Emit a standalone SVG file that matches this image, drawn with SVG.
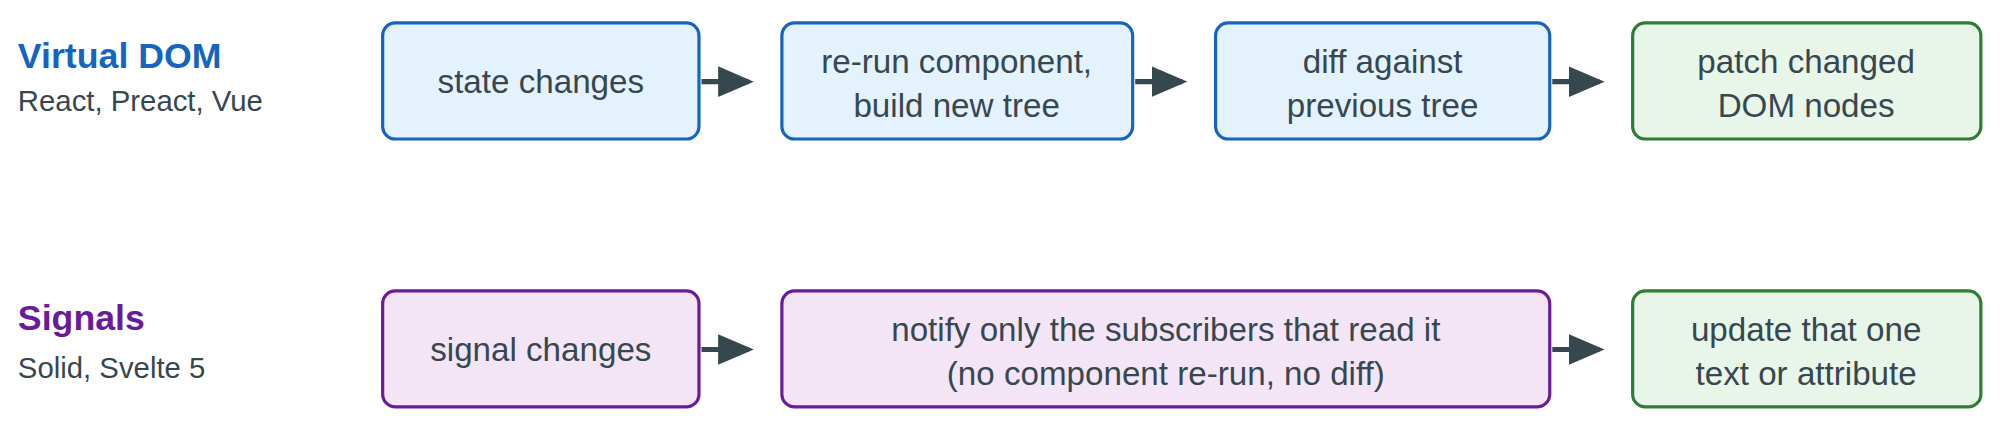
<svg xmlns="http://www.w3.org/2000/svg" width="2000" height="427" viewBox="0 0 2000 427">
<style>
text{font-family:"Liberation Sans",Arial,sans-serif}
.t{font-size:26px;fill:#37474f;text-anchor:middle}
.h{font-size:28px;font-weight:bold}
.s{font-size:23px;fill:#37474f}
.b{fill:#e3f2fd;stroke:#1565c0;stroke-width:2.5}
.p{fill:#f3e5f5;stroke:#6a1b9a;stroke-width:2.5}
.g{fill:#e8f5e9;stroke:#2e7d32;stroke-width:2.5}
.c{stroke:#37474f;stroke-width:4;fill:none;marker-end:url(#a)}
</style>
<defs><marker id="a" markerWidth="7" markerHeight="6" refX="6" refY="3" orient="auto" markerUnits="strokeWidth"><path d="M0,0 L7,3 L0,6 z" fill="#37474f"/></marker></defs>
<g transform="scale(1.27551)">
<g id="label-vdom"><text x="14" y="53" class="h" fill="#1565c0">Virtual DOM</text><text x="14" y="87" class="s">React, Preact, Vue</text></g>
<g id="label-signals"><text x="14" y="259" class="h" fill="#6a1b9a">Signals</text><text x="14" y="296" class="s">Solid, Svelte 5</text></g>
<g id="n1"><rect class="b" x="300" y="18" width="248" height="91" rx="10"/><text class="t" x="424" y="73">state changes</text></g>
<g id="n2"><rect class="b" x="613" y="18" width="275" height="91" rx="10"/><text class="t" x="750" y="57">re-run component,</text><text class="t" x="750" y="92">build new tree</text></g>
<g id="n3"><rect class="b" x="953" y="18" width="262" height="91" rx="10"/><text class="t" x="1084" y="57">diff against</text><text class="t" x="1084" y="92">previous tree</text></g>
<g id="n4"><rect class="g" x="1280" y="18" width="273" height="91" rx="10"/><text class="t" x="1416" y="57">patch changed</text><text class="t" x="1416" y="92">DOM nodes</text></g>
<g id="n5"><rect class="p" x="300" y="228" width="248" height="91" rx="10"/><text class="t" x="424" y="283">signal changes</text></g>
<g id="n6"><rect class="p" x="613" y="228" width="602" height="91" rx="10"/><text class="t" x="914" y="267">notify only the subscribers that read it</text><text class="t" x="914" y="302">(no component re-run, no diff)</text></g>
<g id="n7"><rect class="g" x="1280" y="228" width="273" height="91" rx="10"/><text class="t" x="1416" y="267">update that one</text><text class="t" x="1416" y="302">text or attribute</text></g>
<g id="connectors">
<path class="c" d="M550,64 H587"/>
<path class="c" d="M890,64 H927"/>
<path class="c" d="M1217,64 H1254"/>
<path class="c" d="M550,274 H587"/>
<path class="c" d="M1217,274 H1254"/>
</g>
</g>
</svg>
